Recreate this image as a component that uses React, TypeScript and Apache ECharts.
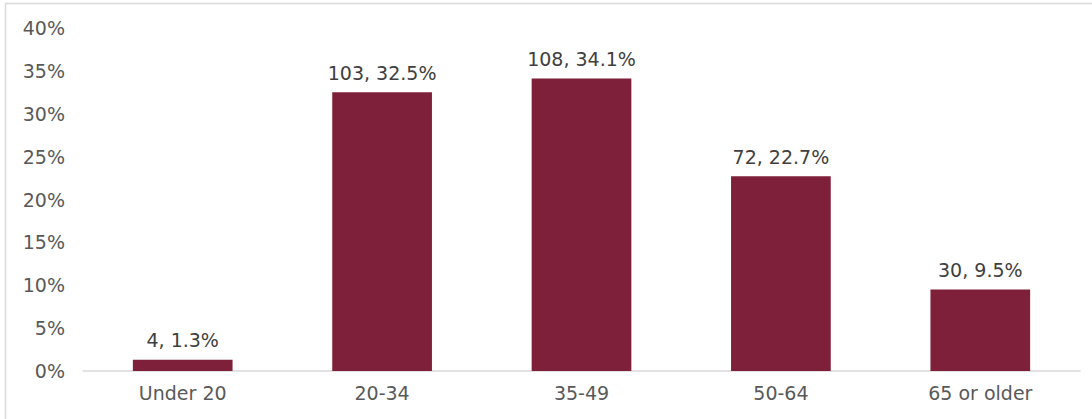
import React, { useEffect, useRef } from "react";
import * as echarts from "echarts";

const categories = ["Under 20", "20-34", "35-49", "50-64", "65 or older"];
const counts = [4, 103, 108, 72, 30];
const percents = [1.3, 32.5, 34.1, 22.7, 9.5];
const yTicks = { min: 0, max: 40, interval: 5 };

export default function App() {
  const ref = useRef<HTMLDivElement>(null);
  useEffect(() => {
    const chart = echarts.init(ref.current!, null, { renderer: "svg" });
    const font = "'DejaVu Sans', Verdana, sans-serif";
    chart.setOption({
      animation: false,
      backgroundColor: "#ffffff",
      graphic: [
        {
          type: "rect",
          shape: { x: 5.5, y: 3.5, width: 1200, height: 600 },
          style: { fill: "none", stroke: "#d9d9d9", lineWidth: 1.5 },
          silent: true,
        },
      ],
      grid: { left: 83, right: 12, top: 28, bottom: 48, containLabel: false },
      xAxis: {
        type: "category",
        data: categories,
        axisLine: { lineStyle: { color: "#d9d9d9", width: 1.5 } },
        axisTick: { show: false },
        axisLabel: { color: "#595959", fontSize: 19, fontFamily: font, margin: 12 },
      },
      yAxis: {
        type: "value",
        min: yTicks.min,
        max: yTicks.max,
        interval: yTicks.interval,
        axisLine: { show: false },
        axisTick: { show: false },
        splitLine: { show: false },
        axisLabel: {
          color: "#595959",
          fontSize: 19,
          fontFamily: font,
          margin: 18,
          formatter: "{value}%",
        },
      },
      series: [
        {
          type: "bar",
          data: percents.map((p, i) => ({ value: p, count: counts[i] })),
          barWidth: "50%",
          itemStyle: { color: "#7E2039" },
          label: {
            show: true,
            position: "top",
            distance: 10,
            color: "#404040",
            fontSize: 19,
            fontFamily: font,
            formatter: (p: any) => `${counts[p.dataIndex]}, ${percents[p.dataIndex]}%`,
          },
        },
      ],
    });
    return () => chart.dispose();
  }, []);
  return (
    <div
      ref={ref}
      style={{ position: "fixed", left: 0, top: 0, width: 1092, height: 419 }}
    />
  );
}
